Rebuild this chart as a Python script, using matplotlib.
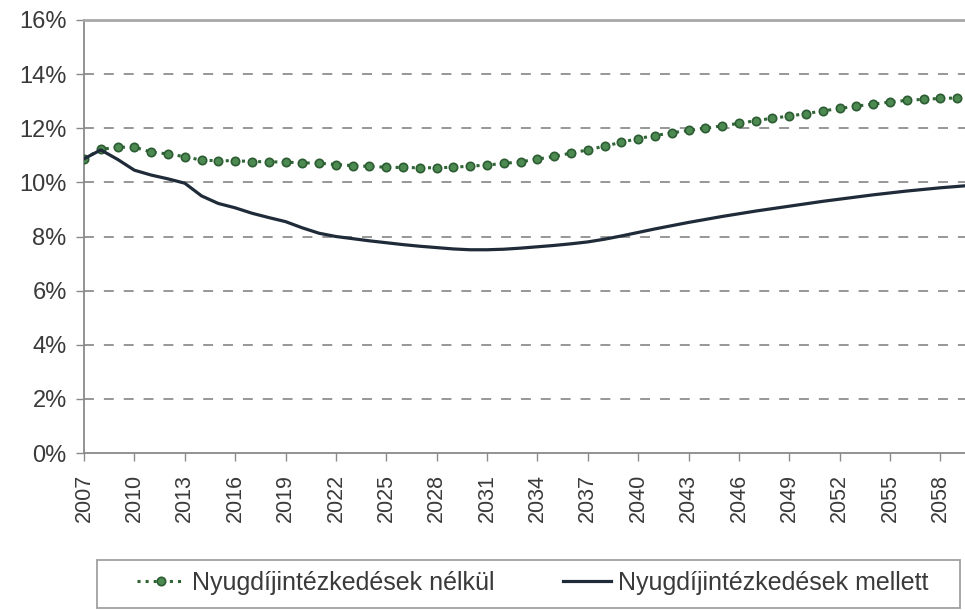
import numpy as np
import matplotlib.pyplot as plt
from matplotlib.ticker import FuncFormatter
from matplotlib.patches import Rectangle

plt.rcParams['font.family'] = ['Liberation Sans', 'DejaVu Sans']

#%% data (share of GDP, %)
years = list(range(2007, 2061))

nelkul = [10.87, 11.22, 11.30, 11.30, 11.12, 11.05, 10.95, 10.82, 10.80, 10.80,
          10.77, 10.76, 10.75, 10.72, 10.71, 10.66, 10.62, 10.59, 10.56, 10.55,
          10.54, 10.54, 10.56, 10.60, 10.64, 10.70, 10.76, 10.86, 10.96, 11.08,
          11.20, 11.34, 11.48, 11.62, 11.73, 11.83, 11.92, 12.00, 12.09, 12.18,
          12.28, 12.37, 12.45, 12.54, 12.64, 12.73, 12.82, 12.89, 12.97, 13.03,
          13.07, 13.10, 13.12, 13.15]

mellett = [10.87, 11.20, 10.85, 10.45, 10.27, 10.13, 9.97, 9.50, 9.22, 9.06,
           8.86, 8.70, 8.55, 8.32, 8.12, 8.00, 7.92, 7.84, 7.77, 7.70,
           7.64, 7.59, 7.54, 7.51, 7.51, 7.53, 7.57, 7.62, 7.67, 7.73,
           7.80, 7.90, 8.02, 8.15, 8.28, 8.40, 8.52, 8.63, 8.74, 8.84,
           8.94, 9.03, 9.12, 9.21, 9.30, 9.38, 9.46, 9.54, 9.61, 9.68,
           9.74, 9.80, 9.85, 9.90]

labels = ['Nyugdíjintézkedések nélkül', 'Nyugdíjintézkedések mellett']
year_ticks = list(range(2007, 2059, 3))
pct_ticks = list(range(0, 17, 2))

#%% figure
dpi = 100
W, H = 965, 610
fig = plt.figure(figsize=(W/dpi, H/dpi), dpi=dpi)
ax = fig.add_axes([84/W, 157/H, (974-84)/W, 433/H])

txt = '#3a3a3a'
axcol = '#8a8a8a'

ax.plot(years, nelkul, linestyle=':', color='#2f6435', lw=2.2,
        marker='o', ms=6, mfc='#4d8a52', mec='#2c5c31', mew=1.2,
        label=labels[0], zorder=3)
ax.plot(years, mellett, color='#1f2b38', lw=2.3, label=labels[1], zorder=4)

ax.set_xlim(2007, 2060)
ax.set_ylim(0, 16)
ax.set_xticks(year_ticks)
ax.set_xticklabels([str(y) for y in year_ticks], rotation=90)
ax.set_yticks(pct_ticks)
ax.yaxis.set_major_formatter(FuncFormatter(lambda v, p: '%d%%' % v))

for y in pct_ticks[1:-1]:
    ax.axhline(y, color='#8f8f8f', lw=1.3, dashes=(5.5, 5.5), zorder=1)

for s in ['left', 'bottom']:
    ax.spines[s].set_color(axcol)
    ax.spines[s].set_linewidth(1.3)
ax.spines['top'].set_color('#a8a8a8')
ax.spines['top'].set_linewidth(2.0)
ax.spines['right'].set_visible(False)

ax.tick_params(axis='both', colors=axcol, labelcolor=txt,
               direction='out', width=1.0)
ax.tick_params(axis='y', length=5.5, pad=7, labelsize=17)
ax.tick_params(axis='x', length=6, pad=9, labelsize=15.5)

# legend box
fig.patches.append(Rectangle((97/W, 2/H), 863/W, 48/H, transform=fig.transFigure,
                             fill=False, edgecolor='#a0a0a0', lw=1.3))
leg = fig.legend(loc='center', ncol=2, bbox_to_anchor=(533/W, 27/H),
                 fontsize=18, frameon=False,
                 handlelength=1.9, handletextpad=0.3, columnspacing=2.75,
                 borderpad=0, borderaxespad=0, labelcolor=txt)

plt.savefig('out.png', dpi=dpi)
